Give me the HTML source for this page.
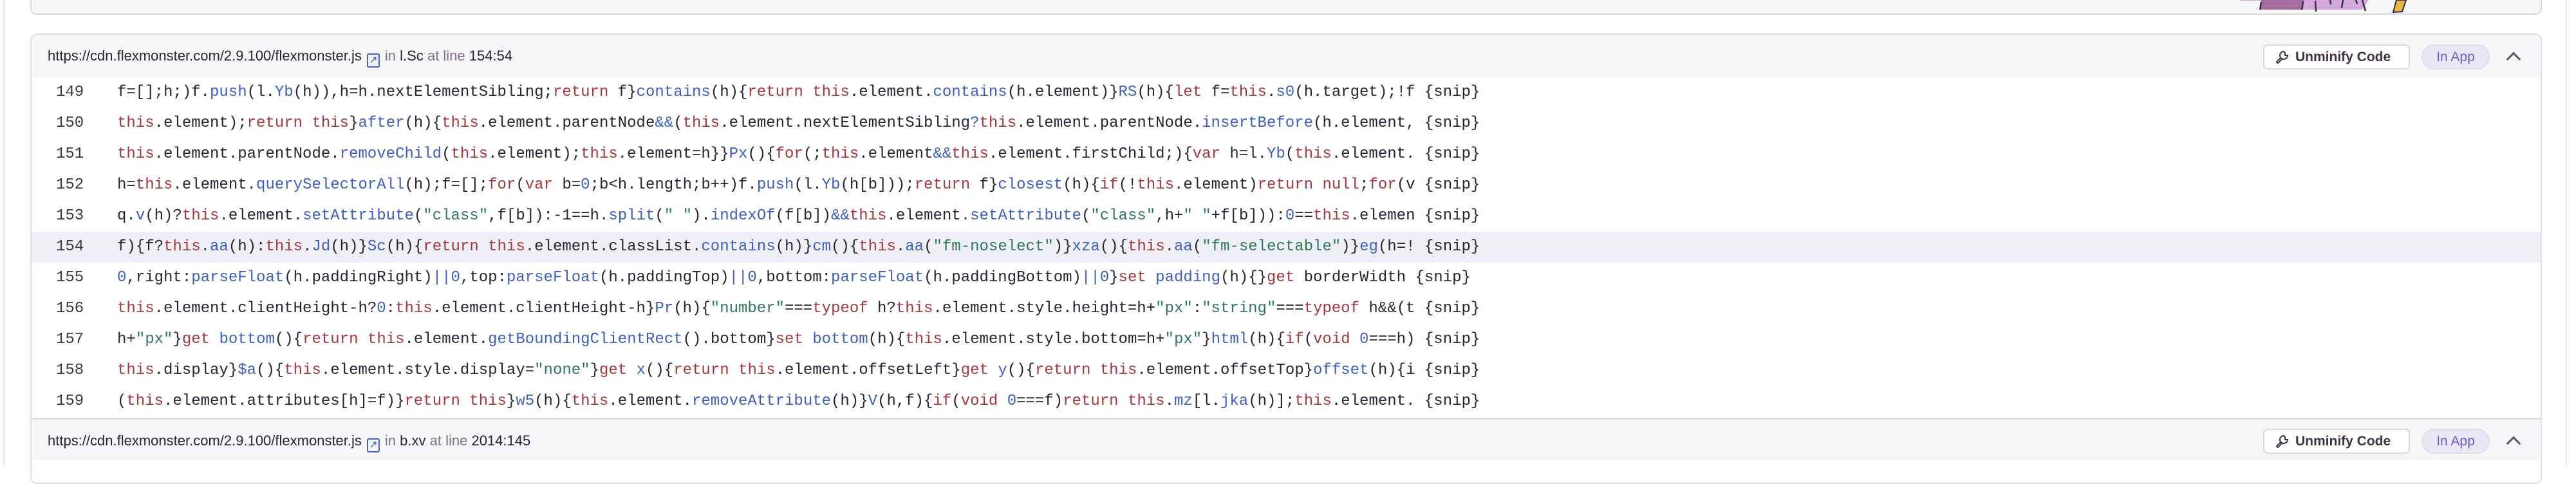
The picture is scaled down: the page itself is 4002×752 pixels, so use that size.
<!DOCTYPE html>
<html><head><meta charset="utf-8"><style>
*{margin:0;padding:0;box-sizing:border-box}
body{width:4002px;height:722px;background:#fff;position:relative;overflow:hidden;font-family:"Liberation Sans",sans-serif;color:#2b2233}
.vl{position:absolute;top:0;width:2px;height:722px;background:#e4e1e8}
.top{position:absolute;left:47px;top:-20px;width:3902px;height:43px;background:#f6f6f8;border:2px solid #dcd9e1;border-radius:10px}
.panel{position:absolute;left:47px;top:52px;width:3902px;height:700px;border:2px solid #e0dde6;border-radius:10px;overflow:hidden;background:#fff}
.hdr{position:absolute;left:0;width:100%;height:66px;background:#f6f6f8;font-size:22px;line-height:66px;padding-left:25px;white-space:nowrap}
.hdr .g{color:#80708f}
.hdr .ic{display:inline-block;width:20px;height:22px;border:2px solid #3e63dd;border-radius:3px;vertical-align:-4px;margin:0 8px 0 8px;position:relative;color:#3e63dd;font-size:16px;line-height:17px;text-align:center}
.row{position:absolute;left:0;width:100%;height:48px;font-family:"Liberation Mono",monospace;font-size:24px;line-height:48px;white-space:pre}
.row .n{position:absolute;left:38px;color:#3e3446}
.row .c{position:absolute;left:133px}
.hl{background:#eff0f5}
.k{color:#a8373f}.f{color:#3d5fc4}.s{color:#2f7a55}
.btn{position:absolute;top:15px;left:3467px;width:228px;height:39px;background:#fff;border:2px solid #dcd9e1;border-radius:7px;font-size:21px;font-weight:bold;line-height:35px;padding-left:48px;color:#3e3446}
.pill{position:absolute;top:15px;left:3713px;width:106px;height:39px;background:#e9e7f5;border:2px solid #e0ddf0;border-radius:20px;font-size:21px;line-height:35px;text-align:center;color:#6c5fc7}
.chev{position:absolute;top:30px;left:3848px;width:16px;height:16px;border-left:3px solid #5e5468;border-top:3px solid #5e5468;transform:rotate(45deg)}
</style></head><body>
<div class="vl" style="left:5px"></div>
<div class="vl" style="left:3986px"></div>
<div class="top"></div>
<svg style="position:absolute;left:3480px;top:0" width="280" height="22">
<polygon points="0,0 40,0 33,1 0,1" fill="#d8a9e0"/>
<polygon points="33,0 100,0 98,15 32,15" fill="#a56ea3"/>
<polygon points="100,0 200,0 190,15 98,15" fill="#d6a9de"/>
<path d="M33,3 L31,15 M98,2 L96,15 M117,1 L118,18 M140,0 L141,7 M160,0 L158,12 M180,0 L182,6 M190,0 L195,17" stroke="#3b2c4c" stroke-width="2.5" fill="none"/>
<polygon points="243,0 258,0 252,18 238,19" fill="#e8b840" stroke="#3b2c4c" stroke-width="2"/>
</svg>
<div class="panel">
 <div class="hdr" style="top:0">https://cdn.flexmonster.com/2.9.100/flexmonster.js<span class="ic">↗</span><span class="g">in </span> l.Sc <span class="g">at line</span> 154:54</div>
 <div class="btn"><svg style="position:absolute;left:16px;top:7px" width="22" height="22" viewBox="0 0 22 22"><path d="M14,2 a6,6 0 1 0 6,6 l-4,0 l0,-4 z M10,11 L3,18 a2,2 0 0 0 2,2 L12,13" stroke="#3e3446" stroke-width="2" fill="none"/></svg>Unminify Code</div>
 <div class="pill">In App</div>
 <div class="chev"></div>

 <div class="row" style="top:66px"><span class="n">149</span><span class="c">f=[];h;)f.<span class="f">push</span>(l.<span class="f">Yb</span>(h)),h=h.nextElementSibling;<span class="k">return</span> f}<span class="f">contains</span>(h){<span class="k">return this</span>.element.<span class="f">contains</span>(h.element)}<span class="f">RS</span>(h){<span class="k">let</span> f=<span class="k">this</span>.<span class="f">s0</span>(h.target);!f {snip}</span></div>
 <div class="row" style="top:114px"><span class="n">150</span><span class="c"><span class="k">this</span>.element);<span class="k">return this</span>}<span class="f">after</span>(h){<span class="k">this</span>.element.parentNode<span class="f">&amp;&amp;</span>(<span class="k">this</span>.element.nextElementSibling<span class="f">?</span><span class="k">this</span>.element.parentNode.<span class="f">insertBefore</span>(h.element, {snip}</span></div>
 <div class="row" style="top:162px"><span class="n">151</span><span class="c"><span class="k">this</span>.element.parentNode.<span class="f">removeChild</span>(<span class="k">this</span>.element);<span class="k">this</span>.element=h}}<span class="f">Px</span>(){<span class="k">for</span>(;<span class="k">this</span>.element<span class="f">&amp;&amp;</span><span class="k">this</span>.element.firstChild;){<span class="k">var</span> h=l.<span class="f">Yb</span>(<span class="k">this</span>.element. {snip}</span></div>
 <div class="row" style="top:210px"><span class="n">152</span><span class="c">h=<span class="k">this</span>.element.<span class="f">querySelectorAll</span>(h);f=[];<span class="k">for</span>(<span class="k">var</span> b=<span class="f">0</span>;b&lt;h.length;b++)f.<span class="f">push</span>(l.<span class="f">Yb</span>(h[b]));<span class="k">return</span> f}<span class="f">closest</span>(h){<span class="k">if</span>(!<span class="k">this</span>.element)<span class="k">return null</span>;<span class="k">for</span>(v {snip}</span></div>
 <div class="row" style="top:258px"><span class="n">153</span><span class="c">q.<span class="f">v</span>(h)?<span class="k">this</span>.element.<span class="f">setAttribute</span>(<span class="s">"class"</span>,f[b]):-1==h.<span class="f">split</span>(<span class="s">" "</span>).<span class="f">indexOf</span>(f[b])<span class="f">&amp;&amp;</span><span class="k">this</span>.element.<span class="f">setAttribute</span>(<span class="s">"class"</span>,h+<span class="s">" "</span>+f[b])):<span class="f">0</span>==<span class="k">this</span>.elemen {snip}</span></div>
 <div class="row hl" style="top:306px"><span class="n">154</span><span class="c">f){f?<span class="k">this</span>.<span class="f">aa</span>(h):<span class="k">this</span>.<span class="f">Jd</span>(h)}<span class="f">Sc</span>(h){<span class="k">return this</span>.element.classList.<span class="f">contains</span>(h)}<span class="f">cm</span>(){<span class="k">this</span>.<span class="f">aa</span>(<span class="s">"fm-noselect"</span>)}<span class="f">xza</span>(){<span class="k">this</span>.<span class="f">aa</span>(<span class="s">"fm-selectable"</span>)}<span class="f">eg</span>(h=! {snip}</span></div>
 <div class="row" style="top:354px"><span class="n">155</span><span class="c"><span class="f">0</span>,right:<span class="f">parseFloat</span>(h.paddingRight)<span class="f">||0</span>,top:<span class="f">parseFloat</span>(h.paddingTop)<span class="f">||0</span>,bottom:<span class="f">parseFloat</span>(h.paddingBottom)<span class="f">||0</span>}<span class="k">set</span> <span class="f">padding</span>(h){}<span class="k">get</span> borderWidth {snip}</span></div>
 <div class="row" style="top:402px"><span class="n">156</span><span class="c"><span class="k">this</span>.element.clientHeight-h?<span class="f">0</span>:<span class="k">this</span>.element.clientHeight-h}<span class="f">Pr</span>(h){<span class="s">"number"</span>===<span class="k">typeof</span> h?<span class="k">this</span>.element.style.height=h+<span class="s">"px"</span>:<span class="s">"string"</span>===<span class="k">typeof</span> h&amp;&amp;(t {snip}</span></div>
 <div class="row" style="top:450px"><span class="n">157</span><span class="c">h+<span class="s">"px"</span>}<span class="k">get</span> <span class="f">bottom</span>(){<span class="k">return this</span>.element.<span class="f">getBoundingClientRect</span>().bottom}<span class="k">set</span> <span class="f">bottom</span>(h){<span class="k">this</span>.element.style.bottom=h+<span class="s">"px"</span>}<span class="f">html</span>(h){<span class="k">if</span>(<span class="k">void</span> <span class="f">0</span>===h) {snip}</span></div>
 <div class="row" style="top:498px"><span class="n">158</span><span class="c"><span class="k">this</span>.display}<span class="f">$a</span>(){<span class="k">this</span>.element.style.display=<span class="s">"none"</span>}<span class="k">get</span> <span class="f">x</span>(){<span class="k">return this</span>.element.offsetLeft}<span class="k">get</span> <span class="f">y</span>(){<span class="k">return this</span>.element.offsetTop}<span class="f">offset</span>(h){i {snip}</span></div>
 <div class="row" style="top:546px"><span class="n">159</span><span class="c">(<span class="k">this</span>.element.attributes[h]=f)}<span class="k">return this</span>}<span class="f">w5</span>(h){<span class="k">this</span>.element.<span class="f">removeAttribute</span>(h)}<span class="f">V</span>(h,f){<span class="k">if</span>(<span class="k">void</span> <span class="f">0</span>===f)<span class="k">return this</span>.<span class="f">mz</span>[l.<span class="f">jka</span>(h)];<span class="k">this</span>.element. {snip}</span></div>

 <div class="hdr" style="top:595px;border-top:3px solid #e0dde6;height:66px">https://cdn.flexmonster.com/2.9.100/flexmonster.js<span class="ic">↗</span><span class="g">in </span> b.xv <span class="g">at line</span> 2014:145</div>
 <div class="btn" style="top:612px">
  <svg style="position:absolute;left:16px;top:7px" width="22" height="22" viewBox="0 0 22 22"><path d="M14,2 a6,6 0 1 0 6,6 l-4,0 l0,-4 z M10,11 L3,18 a2,2 0 0 0 2,2 L12,13" stroke="#3e3446" stroke-width="2" fill="none"/></svg>Unminify Code</div>
 <div class="pill" style="top:612px">In App</div>
 <div class="chev" style="top:627px"></div>
</div>
</body></html>
